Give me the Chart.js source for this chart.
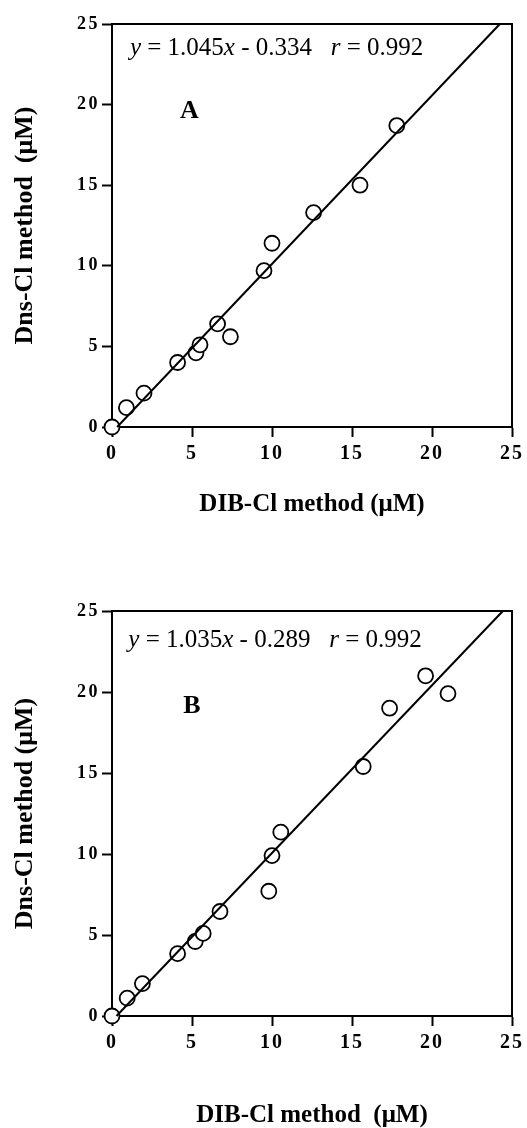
<!DOCTYPE html>
<html>
<head>
<meta charset="utf-8">
<script src="https://cdn.jsdelivr.net/npm/chart.js@4.4.1/dist/chart.umd.min.js"></script>
<style>
  body { margin: 0; background: #fff; }
  .wrap { position: absolute; left: 0; }
</style>
</head>
<body>
<div class="wrap" style="top:0"><canvas id="chartA" width="527" height="560"></canvas></div>
<div class="wrap" style="top:560px"><canvas id="chartB" width="527" height="568"></canvas></div>
<script>
// panel A: DIB-Cl vs Dns-Cl
const xA = [0, 0.9, 2.0, 4.1, 5.25, 5.5, 6.6, 7.4, 9.5, 10.0, 12.6, 15.5, 17.8];
const yA = [0, 1.2, 2.1, 4.0, 4.6, 5.1, 6.4, 5.6, 9.7, 11.4, 13.3, 15.0, 18.7];
const fitA = { slope: 1.045, intercept: -0.334, r: "0.992" };
const fitRangeA = [0.32, 24.24];

// panel B
const xB = [0, 0.95, 1.9, 4.1, 5.2, 5.7, 6.75, 9.8, 10.0, 10.55, 15.7, 17.35, 19.6, 21.0];
const yB = [0, 1.1, 2.0, 3.85, 4.6, 5.1, 6.45, 7.7, 9.9, 11.35, 15.4, 19.0, 21.0, 19.9];
const fitB = { slope: 1.035, intercept: -0.289, r: "0.992" };
const fitRangeB = [0.28, 24.43];

const axisMin = 0;
const axisMax = 25;
const tickStep = 5;

const SERIF = '"Liberation Serif", "Times New Roman", serif';

const framePlugin = {
  id: "frame",
  beforeDatasetsDraw(chart) {
    const { ctx, chartArea: a } = chart;
    ctx.save();
    ctx.strokeStyle = "#000";
    ctx.lineWidth = 2;
    ctx.strokeRect(a.left, a.top, a.right - a.left, a.bottom - a.top);
    ctx.restore();
  }
};

// equation + panel letter, placed in data units
const notePlugin = {
  id: "note",
  afterDatasetsDraw(chart, args, opts) {
    const { ctx, scales } = chart;
    ctx.save();
    ctx.fillStyle = "#000";
    ctx.textBaseline = "alphabetic";
    let x = scales.x.getPixelForValue(opts.eqAt[0]);
    const y = scales.y.getPixelForValue(opts.eqAt[1]);
    for (const part of opts.parts) {
      ctx.font = (part.i ? "italic " : "") + "25px " + SERIF;
      ctx.fillText(part.t, x, y);
      x += ctx.measureText(part.t).width;
    }
    ctx.font = "bold 26px " + SERIF;
    ctx.fillText(opts.letter, scales.x.getPixelForValue(opts.letterAt[0]), scales.y.getPixelForValue(opts.letterAt[1]));
    ctx.restore();
  }
};

function eqParts(fit) {
  const sign = fit.intercept < 0 ? " - " : " + ";
  return [
    { t: "y", i: true },
    { t: " = " + fit.slope.toFixed(3) },
    { t: "x", i: true },
    { t: sign + Math.abs(fit.intercept).toFixed(3) + "   " },
    { t: "r", i: true },
    { t: " = " + fit.r }
  ];
}

// tick digits in the scan are spaced apart a little
function spacedLabels(spacing) {
  return s => {
    if (s._spaced) return;
    s._spaced = true;
    const orig = s.drawLabels;
    s.drawLabels = function (area) {
      this.ctx.save();
      this.ctx.letterSpacing = spacing;
      orig.call(this, area);
      this.ctx.restore();
    };
  };
}

function makeChart(id, xs, ys, fit, range, p) {
  const pts = xs.map((v, i) => ({ x: v, y: ys[i] }));
  const line = range.map(v => ({ x: v, y: fit.slope * v + fit.intercept }));
  const spaceX = spacedLabels("2px");
  const spaceY = spacedLabels("2.5px");
  return new Chart(document.getElementById(id), {
    type: "scatter",
    data: {
      datasets: [
        {
          type: "line",
          data: line,
          borderColor: "#000",
          borderWidth: 2,
          pointRadius: 0,
          fill: false,
          order: 0,
          clip: false
        },
        {
          data: pts,
          pointStyle: "circle",
          pointRadius: 7.5,
          pointBorderWidth: 1.8,
          pointBorderColor: "#000",
          pointBackgroundColor: "#fff",
          order: 1,
          clip: false
        }
      ]
    },
    options: {
      responsive: false,
      animation: false,
      events: [],
      layout: { padding: { top: p.top, right: 15, left: 0, bottom: 0 } },
      plugins: {
        legend: { display: false },
        tooltip: { enabled: false },
        note: { parts: eqParts(fit), eqAt: p.eqAt, letter: p.letter, letterAt: p.letterAt }
      },
      scales: {
        x: {
          type: "linear",
          min: axisMin,
          max: axisMax,
          afterFit: s => { s.height = p.xh; spaceX(s); },
          ticks: { stepSize: tickStep, color: "#000", padding: 5, font: { family: SERIF, size: 20, weight: "bold" } },
          grid: { drawOnChartArea: false, tickLength: 10, tickWidth: 2, tickColor: "#000" },
          border: { color: "#000", width: 2 },
          title: {
            display: true,
            text: p.xTitle,
            color: "#000",
            padding: { top: 0, bottom: p.xtpad },
            font: { family: SERIF, size: 25, weight: "bold", lineHeight: 1 }
          }
        },
        y: {
          type: "linear",
          min: axisMin,
          max: axisMax,
          afterFit: s => { s.width = 112; spaceY(s); },
          ticks: { stepSize: tickStep, color: "#000", padding: 2, font: { family: SERIF, size: 18, weight: "bold" } },
          grid: { drawOnChartArea: false, tickLength: 10, tickWidth: 2, tickColor: "#000" },
          border: { color: "#000", width: 2 },
          title: {
            display: true,
            text: p.yTitle,
            color: "#000",
            padding: { top: 12, bottom: 0 },
            font: { family: SERIF, size: 26, weight: "bold", lineHeight: 1 }
          }
        }
      }
    },
    plugins: [framePlugin, notePlugin]
  });
}

makeChart("chartA", xA, yA, fitA, fitRangeA, {
  top: 24, xh: 133, xtpad: 43,
  xTitle: "DIB-Cl method (\u03bcM)",
  yTitle: "Dns-Cl method  (\u03bcM)",
  eqAt: [1.12, 23.1], letter: "A", letterAt: [4.25, 19.15]
});

makeChart("chartB", xB, yB, fitB, fitRangeB, {
  top: 51, xh: 112, xtpad: 0,
  xTitle: "DIB-Cl method  (\u03bcM)",
  yTitle: "Dns-Cl method (\u03bcM)",
  eqAt: [1.02, 22.75], letter: "B", letterAt: [4.45, 18.7]
});
</script>
</body>
</html>
